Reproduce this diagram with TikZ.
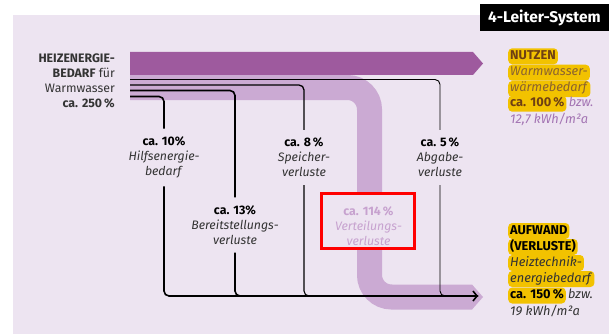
\documentclass[tikz,border=0pt]{standalone}
\usepackage{fontspec}
\setmainfont{Fira Sans}
\usetikzlibrary{arrows.meta,positioning}
\definecolor{BgClr}{HTML}{EDE4F1}
\definecolor{UseClr}{HTML}{9E5A9E}
\definecolor{DistClr}{HTML}{CBAAD3}
\definecolor{DistTxtClr}{HTML}{C7A2CF}
\definecolor{MarkClr}{HTML}{F2C200}
\definecolor{NoteClr}{HTML}{A374B3}
\definecolor{UseTxtClr}{HTML}{6E3F14}
\definecolor{UseItClr}{HTML}{8A6230}
\definecolor{TxtClr}{HTML}{333333}

\begin{document}
\begin{tikzpicture}[x=1pt,y=-1pt,
  lbl/.style={font=\fontsize{12.3}{15}\selectfont,text=TxtClr},
  loss/.style={lbl,align=center,inner xsep=2pt,inner ysep=8pt},
  hilite/.style={lbl,font=\fontsize{12.8}{16}\selectfont,fill=MarkClr,rounded corners=4pt,
    inner xsep=2pt,inner ysep=2pt,text height=9pt,text depth=3pt,anchor=base west},
  plain/.style={hilite,fill=none},
  flow/.style={line width=1.6pt,rounded corners=5pt},
]
\useasboundingbox (0,0) rectangle (609,334);
\fill[BgClr] (13,15) rectangle (609,334);

\node[fill=black,text=white,font=\bfseries\fontsize{15.5}{17}\selectfont,
  minimum width=129pt,minimum height=27pt,inner sep=0pt] (title) at (544.5,17.5) {4-Leiter-System};

% distribution band and useful heat
\coordinate (bandin) at (130,87.5);
\coordinate (bandout) at (472,297);
\draw[DistClr,line width=25pt,rounded corners=22pt] (bandin) -- (369.5,87.5) -- (369.5,297) -- (bandout);
\fill[DistClr] (472,284.5) -- (483,297) -- (472,309.5) -- cycle;
\fill[UseClr] (130,52) -- (473,52) -- (483,63.5) -- (473,75) -- (130,75) -- cycle;

\node[lbl,align=right,anchor=north east,inner sep=0pt] (demand) at (115,53.2)
  {\textbf{HEIZENERGIE-}\\\textbf{BEDARF} für\\Warmwasser\\\textbf{ca. 250\,\%}};

% loss labels
\node[loss] (hilf) at (164,157.5) {\textbf{\color{black}ca. 10\%}\\\textit{Hilfsenergie-}\\\textit{bedarf}};
\node[loss] (bereit) at (235,225) {\textbf{\color{black}ca. 13\%}\\\textit{Bereitstellungs-}\\\textit{verluste}};
\node[loss] (speicher) at (304,157.5) {\textbf{\color{black}ca. 8\,\%}\\\textit{Speicher-}\\\textit{verluste}};
\node[loss] (abgabe) at (440,157.5) {\textbf{\color{black}ca. 5\,\%}\\\textit{Abgabe-}\\\textit{verluste}};

\coordinate (s1) at (130,79.5);
\coordinate (s2) at (130,85);
\coordinate (s3) at (130,90.5);
\coordinate (s4) at (130,96.5);
\coordinate (end) at (478,296);

\draw[flow,line width=0.9pt] (s1) -| (abgabe.north);
\draw[flow,line width=1.3pt] (s2) -| (speicher.north);
\draw[flow] (s3) -| (bereit.north);
\draw[flow] (s4) -| (hilf.north);

\draw[flow,line width=0.9pt] (abgabe.south) |- (end);
\draw[flow,line width=1.1pt] (speicher.south) |- (end);
\draw[flow] (bereit.south) |- (end);
\draw[flow,-{Straight Barb[length=4pt,width=10pt]}] (hilf.south) |- (end);

\node[draw=red,line width=3pt,fill=BgClr,minimum width=93pt,minimum height=55pt] (vertbox) at (368,221) {};
\node[loss,text=DistTxtClr] (vert) at (368.5,226) {\textbf{ca. 114\,\%}\\\textit{Verteilungs-}\\\textit{verluste}};

% benefit
\node[hilite,text=UseTxtClr] (nutz) at (508,59.3) {\textbf{NUTZEN}};
\node[hilite,text=UseItClr] (nutzA) at (508,75.7) {\textit{Warmwasser-}};
\node[hilite,text=UseItClr] (nutzB) at (508,92) {\textit{wärmebedarf}};
\node[hilite,text=UseTxtClr] (nutzVal) at (508,106.7) {\textbf{ca. 100\,\%}};
\node[plain,text=NoteClr,right=0pt of nutzVal.base east,anchor=base west] (nutzBzw) {\textit{bzw.}};
\node[plain,text=NoteClr] (nutzKwh) at (508,123.3) {\textit{12,7 kWh/m²a}};

% expense
\node[hilite,text=black] (aufw) at (508,234) {\textbf{AUFWAND}};
\node[hilite,text=black] (aufwA) at (508,250) {\textbf{(VERLUSTE)}};
\node[hilite,text=TxtClr] (aufwB) at (508,266) {\textit{Heiztechnik-}};
\node[hilite,text=TxtClr] (aufwC) at (508,282) {\textit{energiebedarf}};
\node[hilite,text=black] (aufwVal) at (508,298.5) {\textbf{ca. 150\,\%}};
\node[plain,right=0pt of aufwVal.base east,anchor=base west] (aufwBzw) {\textit{bzw.}};
\node[plain] (aufwKwh) at (508,315) {\textit{19 kWh/m²a}};

\end{tikzpicture}
\end{document}
